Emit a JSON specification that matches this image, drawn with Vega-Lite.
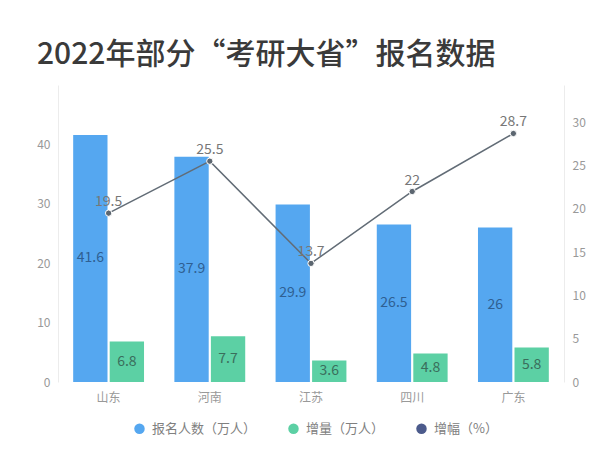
{
  "$schema": "https://vega.github.io/schema/vega-lite/v6.json",
  "width": 506,
  "height": 297,
  "autosize": "none",
  "padding": {"left": 58, "top": 85, "right": 40, "bottom": 68},
  "background": "white",
  "config": {"view": {"stroke": null}, "font": "Noto Sans CJK SC"},
  "title": {
    "text": "2022年部分“考研大省”报名数据",
    "anchor": "start",
    "frame": "group",
    "dx": -21,
    "offset": 15,
    "fontSize": 30,
    "font": "Noto Sans CJK SC",
    "fontWeight": 500,
    "color": "#3a3a3a"
  },
  "data": {
    "values": [
      {"省份": "山东", "报名人数（万人）": 41.6, "增量（万人）": 6.8, "增幅（%）": 19.5},
      {"省份": "河南", "报名人数（万人）": 37.9, "增量（万人）": 7.7, "增幅（%）": 25.5},
      {"省份": "江苏", "报名人数（万人）": 29.9, "增量（万人）": 3.6, "增幅（%）": 13.7},
      {"省份": "四川", "报名人数（万人）": 26.5, "增量（万人）": 4.8, "增幅（%）": 22},
      {"省份": "广东", "报名人数（万人）": 26, "增量（万人）": 5.8, "增幅（%）": 28.7}
    ]
  },
  "encoding": {
    "x": {
      "field": "省份",
      "type": "nominal",
      "sort": null,
      "scale": {"paddingInner": 0.3, "paddingOuter": 0.15},
      "axis": {
        "title": null,
        "domain": false,
        "ticks": false,
        "labelAngle": 0,
        "labelPadding": 10,
        "labelFontSize": 12,
        "labelColor": "#999999",
        "labelFont": "Noto Sans CJK SC"
      }
    }
  },
  "layer": [
    {
      "transform": [{"fold": ["报名人数（万人）", "增量（万人）"], "as": ["系列", "数值"]}],
      "mark": {"type": "bar"},
      "encoding": {
        "xOffset": {
          "field": "系列",
          "type": "nominal",
          "sort": ["报名人数（万人）", "增量（万人）"],
          "scale": {"domain": ["报名人数（万人）", "增量（万人）"], "paddingInner": 0.06, "paddingOuter": 0}
        },
        "y": {
          "field": "数值",
          "type": "quantitative",
          "scale": {"domain": [0, 50], "nice": false},
          "axis": {
            "orient": "left",
            "title": null,
            "values": [0, 10, 20, 30, 40],
            "grid": false,
            "ticks": false,
            "domainColor": "#ececec",
            "labelColor": "#999999",
            "labelFontSize": 12,
            "labelPadding": 8
          }
        },
        "color": {
          "field": "系列",
          "type": "nominal",
          "scale": {
            "domain": ["报名人数（万人）", "增量（万人）", "增幅（%）"],
            "range": ["#55a7f0", "#5cd0a4", "#4c5b8c"]
          },
          "legend": {
            "orient": "none",
            "legendX": 75,
            "legendY": 337,
            "direction": "horizontal",
            "title": null,
            "symbolType": "circle",
            "symbolSize": 110,
            "symbolStrokeWidth": 0,
            "labelFontSize": 13,
            "labelColor": "#808080",
            "labelOffset": 6,
            "columnPadding": 30
          }
        }
      }
    },
    {
      "mark": {"type": "text", "fontSize": 14, "color": "#2f5f92"},
      "encoding": {
        "xOffset": {"datum": "报名人数（万人）"},
        "y": {"field": "报名人数（万人）", "type": "quantitative", "scale": {"domain": [0, 100], "nice": false}, "axis": null},
        "text": {"field": "报名人数（万人）", "type": "quantitative"}
      }
    },
    {
      "mark": {"type": "text", "fontSize": 14, "color": "#3a6e5c"},
      "encoding": {
        "xOffset": {"datum": "增量（万人）"},
        "y": {"field": "增量（万人）", "type": "quantitative", "scale": {"domain": [0, 100], "nice": false}, "axis": null},
        "text": {"field": "增量（万人）", "type": "quantitative"}
      }
    },
    {
      "mark": {
        "type": "line",
        "color": "#626c76",
        "strokeWidth": 1.5,
        "point": {"filled": true, "size": 40, "color": "#5c6670", "stroke": "white", "strokeWidth": 1}
      },
      "encoding": {
        "y": {
          "field": "增幅（%）",
          "type": "quantitative",
          "scale": {"domain": [0, 34.3], "nice": false},
          "axis": {
            "orient": "right",
            "title": null,
            "values": [0, 5, 10, 15, 20, 25, 30],
            "grid": false,
            "ticks": false,
            "domainColor": "#ececec",
            "labelColor": "#999999",
            "labelFontSize": 12,
            "labelPadding": 8
          }
        }
      }
    },
    {
      "mark": {"type": "text", "fontSize": 14, "color": "#777777", "dy": -11},
      "encoding": {
        "y": {"field": "增幅（%）", "type": "quantitative", "scale": {"domain": [0, 34.3], "nice": false}, "axis": null},
        "text": {"field": "增幅（%）", "type": "quantitative"}
      }
    }
  ],
  "resolve": {"scale": {"y": "independent"}}
}
